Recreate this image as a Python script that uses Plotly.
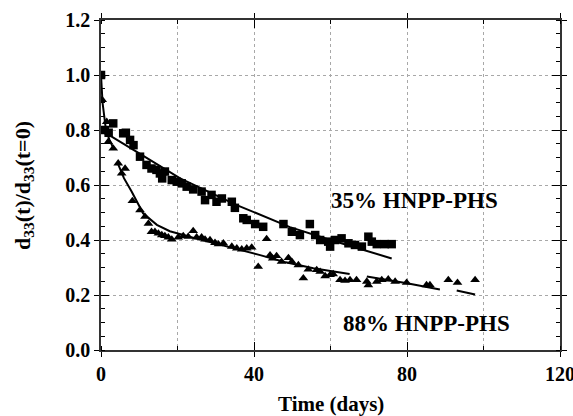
import plotly.graph_objects as go

# 35% HNPP-PHS (squares)
sq_t = [0, 1.0, 2.0, 3.2, 5.8, 6.5, 7.6, 8.5, 10.2, 11.9, 13.2, 14.5, 15.4, 16.0, 16.7,
        18.5, 19.8, 21.1, 22.4, 24.1, 26.3, 27.2, 28.9, 30.2, 31.6, 34.2, 35.0, 37.2, 38.1,
        40.3, 42.4, 47.7, 49.9, 52.0, 54.6, 56.0, 57.3, 59.4, 59.9, 61.2, 62.9, 64.7, 66.4,
        68.2, 69.9, 70.8, 72.1, 74.2, 76.0]
sq_y = [1.0, 0.80, 0.79, 0.824, 0.788, 0.79, 0.764, 0.745, 0.703, 0.673, 0.66, 0.655, 0.642,
        0.624, 0.649, 0.618, 0.612, 0.606, 0.594, 0.584, 0.576, 0.545, 0.564, 0.539, 0.551,
        0.539, 0.517, 0.479, 0.473, 0.458, 0.448, 0.458, 0.43, 0.418, 0.458, 0.418, 0.40,
        0.394, 0.376, 0.40, 0.406, 0.388, 0.382, 0.376, 0.412, 0.394, 0.385, 0.385, 0.385]

# 88% HNPP-PHS (triangles)
tr_t = [0, 0.3, 1.5, 1.9, 3.2, 4.5, 5.4, 6.3, 8.2, 10.2, 11.5, 12.4, 13.2, 14.1, 15.0, 15.9,
        16.7, 17.6, 18.5, 20.2, 21.5, 22.8, 24.1, 25.0, 26.3, 27.2, 28.5, 29.8, 30.7, 32.0,
        34.2, 35.5, 36.8, 38.1, 39.4, 41.1, 43.3, 44.2, 44.9, 45.9, 47.2, 49.0, 49.9, 51.6,
        52.9, 54.2, 56.4, 57.3, 58.6, 59.9, 60.7, 62.5, 63.8, 65.1, 66.8, 69.5, 69.9, 72.1,
        73.4, 75.1, 76.9, 79.9, 85.1, 86.0, 90.8, 93.2, 97.8]
tr_y = [1.0, 0.91, 0.83, 0.757, 0.733, 0.679, 0.642, 0.66, 0.542, 0.509, 0.485, 0.46, 0.43,
        0.43, 0.424, 0.418, 0.415, 0.41, 0.402, 0.41, 0.415, 0.412, 0.433, 0.41, 0.41, 0.402,
        0.40, 0.39, 0.385, 0.388, 0.376, 0.37, 0.366, 0.37, 0.373, 0.303, 0.404, 0.345, 0.333,
        0.342, 0.321, 0.335, 0.321, 0.309, 0.261, 0.293, 0.291, 0.285, 0.269, 0.273, 0.276,
        0.255, 0.252, 0.255, 0.255, 0.249, 0.236, 0.249, 0.255, 0.257, 0.249, 0.245, 0.236,
        0.236, 0.255, 0.245, 0.255]

# fitted curves
fit35_t = [1.0, 2.8, 10.0, 20.7, 35.5, 44.0, 49.4, 60.0, 70.0, 76.0]
fit35_y = [0.785, 0.776, 0.715, 0.624, 0.527, 0.479, 0.447, 0.40, 0.357, 0.333]

fit88_t = [0, 0.4, 1.3, 2.2, 3.2, None, 4.5, 6.0, 8.0, 11.0, 14.6, 18.0, 25.0, 32.0, 38.0,
           41.6, 48.0, 55.5, 60.0, 65.0, None, 69.5, 75.0, 80.0, 88.6, None, 93.0, 97.8]
fit88_y = [1.0, 0.90, 0.80, 0.765, 0.735, None, 0.675, 0.625, 0.576, 0.497, 0.455, 0.432,
           0.405, 0.38, 0.36, 0.345, 0.32, 0.297, 0.287, 0.276, None, 0.267, 0.255, 0.243,
           0.22, None, 0.216, 0.202]

x_ticks = [0, 40, 80, 120]
y_ticks = [0.0, 0.2, 0.4, 0.6, 0.8, 1.0, 1.2]

FONT = "Liberation Serif, Times New Roman, serif"
GRID = "#a8a8a8"

fig = go.Figure()
fig.add_trace(go.Scatter(x=fit35_t, y=fit35_y, mode="lines",
                         line=dict(color="black", width=2), showlegend=False))
fig.add_trace(go.Scatter(x=fit88_t, y=fit88_y, mode="lines", connectgaps=False,
                         line=dict(color="black", width=2), showlegend=False))
fig.add_trace(go.Scatter(x=sq_t, y=sq_y, mode="markers",
                         marker=dict(symbol="square", size=8.5, color="black"),
                         showlegend=False))
fig.add_trace(go.Scatter(x=tr_t, y=tr_y, mode="markers",
                         marker=dict(symbol="triangle-up", size=8.5, color="black"),
                         showlegend=False))
# dummy trace for overlay axes (inside part of crossing ticks)
fig.add_trace(go.Scatter(x=[None], y=[None], xaxis="x2", yaxis="y2",
                         showlegend=False, hoverinfo="skip"))

fig.update_layout(
    width=573, height=416,
    margin=dict(l=101, r=13, t=20, b=66),
    paper_bgcolor="white", plot_bgcolor="white",
    font=dict(family=FONT, color="black", size=20, weight="bold"),
    xaxis=dict(range=[0, 120], tickvals=x_ticks, ticktext=[str(v) for v in x_ticks],
               ticks="outside", ticklen=5, tickwidth=1.2, tickcolor="black",
               showline=True, linecolor="#333", linewidth=1.5, mirror="ticks",
               showgrid=True, gridcolor=GRID, griddash="dot", gridwidth=1,
               zeroline=False, automargin=False, ticklabeloverflow="allow",
               minor=dict(dtick=20, ticks="inside", ticklen=4, tickcolor="black",
                          showgrid=True, gridcolor=GRID, griddash="dot", gridwidth=1),
               tickfont=dict(size=20, family=FONT, weight="bold")),
    yaxis=dict(range=[0, 1.2], tickvals=y_ticks, tickformat=".1f",
               ticks="outside", ticklen=5, tickwidth=1.2, tickcolor="black",
               showline=True, linecolor="#333", linewidth=1.5, mirror="ticks",
               showgrid=True, gridcolor=GRID, griddash="dot", gridwidth=1,
               zeroline=False, automargin=False, ticklabeloverflow="allow",
               minor=dict(dtick=0.05, ticks="inside", ticklen=4, tickcolor="black",
                          showgrid=False),
               tickfont=dict(size=20, family=FONT, weight="bold")),
    xaxis2=dict(range=[0, 120], overlaying="x", tickvals=x_ticks, showticklabels=False,
                ticks="inside", ticklen=8, tickcolor="black", tickwidth=1.2,
                mirror="ticks", showgrid=False, zeroline=False, showline=False,
                automargin=False),
    yaxis2=dict(range=[0, 1.2], overlaying="y", tickvals=y_ticks, showticklabels=False,
                ticks="inside", ticklen=8, tickcolor="black", tickwidth=1.2,
                mirror="ticks", showgrid=False, zeroline=False, showline=False,
                automargin=False),
)

fig.add_annotation(text="35% HNPP-PHS", x=82, y=0.545, xref="x", yref="y",
                   showarrow=False, font=dict(size=23, family=FONT, weight="bold"))
fig.add_annotation(text="88% HNPP-PHS", x=85, y=0.098, xref="x", yref="y",
                   showarrow=False, font=dict(size=23, family=FONT, weight="bold"))
fig.add_annotation(text="Time (days)", x=0.5, y=-0.164, xref="paper", yref="paper",
                   yanchor="middle", showarrow=False,
                   font=dict(size=21, family=FONT, weight="bold"))
fig.add_annotation(text="d<sub>33</sub>(t)/d<sub>33</sub>(t=0)", x=-0.168, y=0.5,
                   xref="paper", yref="paper", textangle=-90, showarrow=False,
                   xanchor="center", yanchor="middle",
                   font=dict(size=22, family=FONT, weight="bold"))

fig.write_html("out.html", config={"displayModeBar": False},
               post_script="document.body.style.margin='0';document.body.style.overflow='hidden';")
